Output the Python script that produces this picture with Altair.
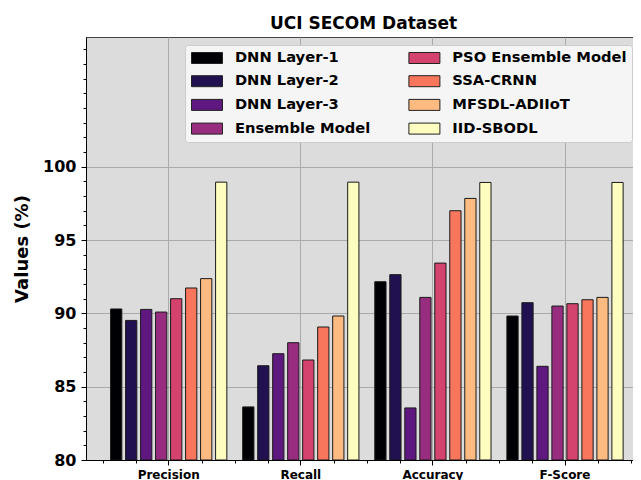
import altair as alt
import pandas as pd

metrics = ["Precision", "Recall", "Accuracy", "F-Score"]
models = ["DNN Layer-1", "DNN Layer-2", "DNN Layer-3", "Ensemble Model",
          "PSO Ensemble Model", "SSA-CRNN", "MFSDL-ADIIoT", "IID-SBODL"]
colors = ["#000004", "#221150", "#5f187f", "#982d80",
          "#d3436e", "#f8765c", "#febb81", "#fcfdbf"]

dnn1 = [90.30, 83.62, 92.16, 89.82]
dnn2 = [89.52, 86.43, 92.64, 90.73]
dnn3 = [90.27, 87.25, 83.55, 86.39]
ensemble = [90.09, 88.00, 91.09, 90.50]
pso = [91.00, 86.82, 93.43, 90.66]
ssa = [91.73, 89.07, 97.00, 90.93]
mfsdl = [92.37, 89.82, 97.84, 91.09]
iid = [98.95, 98.95, 98.93, 98.93]

series = [dnn1, dnn2, dnn3, ensemble, pso, ssa, mfsdl, iid]
rows = []
for m, vals in zip(models, series):
    for k, v in zip(metrics, vals):
        rows.append({"Metric": k, "Model": m, "Value": v})
df = pd.DataFrame(rows)

y_major = [80, 85, 90, 95, 100]
y_minor = list(range(80, 109))
y_dom = [80, 108.85]
# category-index axis used only for matplotlib-style minor ticks on x
x_minor = [-0.5, -0.25, 0.25, 0.5, 0.75, 1.25, 1.5, 1.75,
           2.25, 2.5, 2.75, 3.25, 3.5]
x_idx_dom = [-0.626, 3.575]
FONT = "DejaVu Sans"

base = alt.Chart(df)

bars = base.mark_bar(stroke="#1a1a1a", strokeWidth=1, clip=True).encode(
    x=alt.X("Metric:N", sort=metrics,
            scale=alt.Scale(paddingInner=0.12, paddingOuter=0.1607, align=0.579),
            axis=alt.Axis(title=None, labelAngle=0, grid=True, gridColor="#aaaaaa",
                          gridWidth=1, labelFontSize=12, labelFontWeight="bold",
                          labelFont=FONT, labelColor="black", tickColor="black",
                          tickSize=5, labelPadding=4, domainColor="black")),
    xOffset=alt.XOffset("Model:N", sort=models,
                        scale=alt.Scale(paddingInner=0.25, paddingOuter=0)),
    y=alt.Y("Value:Q", scale=alt.Scale(domain=y_dom, nice=False, zero=False),
            axis=alt.Axis(values=y_major, title="Values (%)", grid=True,
                          gridColor="#aaaaaa", gridWidth=1,
                          labelFontSize=16, labelFontWeight="bold", labelFont=FONT,
                          labelColor="black", tickColor="black", tickSize=5,
                          labelPadding=5, titleFontSize=18, titleFont=FONT,
                          titleFontWeight="bold", titleColor="black",
                          titlePadding=11, domainColor="black", orient="left")),
    y2=alt.datum(80),
    color=alt.Color("Model:N", sort=models,
                    scale=alt.Scale(domain=models, range=colors),
                    legend=alt.Legend(
                        title=None, orient="none", legendX=99, legendY=8,
                        columns=2, columnPadding=35.4, rowPadding=6.7,
                        symbolType="M-2.214,-0.786L2.214,-0.786L2.214,0.786L-2.214,0.786Z",
                        symbolSize=196, symbolOffset=9.5,
                        symbolStrokeColor="#222222",
                        symbolStrokeWidth=1, symbolOpacity=1,
                        labelFont=FONT, labelFontSize=14.7, labelFontWeight="bold",
                        labelColor="black", labelOffset=20.4, labelLimit=400,
                        padding=5,
                        fillColor="#f5f5f5", strokeColor="#cccccc",
                        cornerRadius=3)),
)

minor = base.mark_point(opacity=0, clip=True).encode(
    x=alt.datum(0, type="quantitative",
                scale=alt.Scale(domain=x_idx_dom, nice=False, zero=False),
                axis=alt.Axis(values=x_minor, labels=False, grid=False, title=None,
                              tickSize=3, tickColor="black", domain=False,
                              orient="bottom")),
    y=alt.Y("Value:Q", scale=alt.Scale(domain=y_dom, nice=False, zero=False),
            axis=alt.Axis(values=y_minor, labels=False, grid=False, title=None,
                          tickSize=3, tickColor="black", domain=False,
                          orient="left")),
)

chart = alt.layer(bars, minor).resolve_scale(x="independent").resolve_axis(
    x="independent", y="independent").properties(
    width=555, height=423,
    title=alt.Title("UCI SECOM Dataset", fontSize=17, font=FONT,
                    fontWeight="bold", color="black", offset=4, anchor="middle"),
    autosize=alt.AutoSizeParams(type="none"),
    padding={"left": 78, "top": 29, "right": -8, "bottom": 20},
).configure_view(fill="#dcdcdc", stroke="#444444", strokeWidth=1)

chart.save("out.html", embed_options={"renderer": "svg", "actions": False})
